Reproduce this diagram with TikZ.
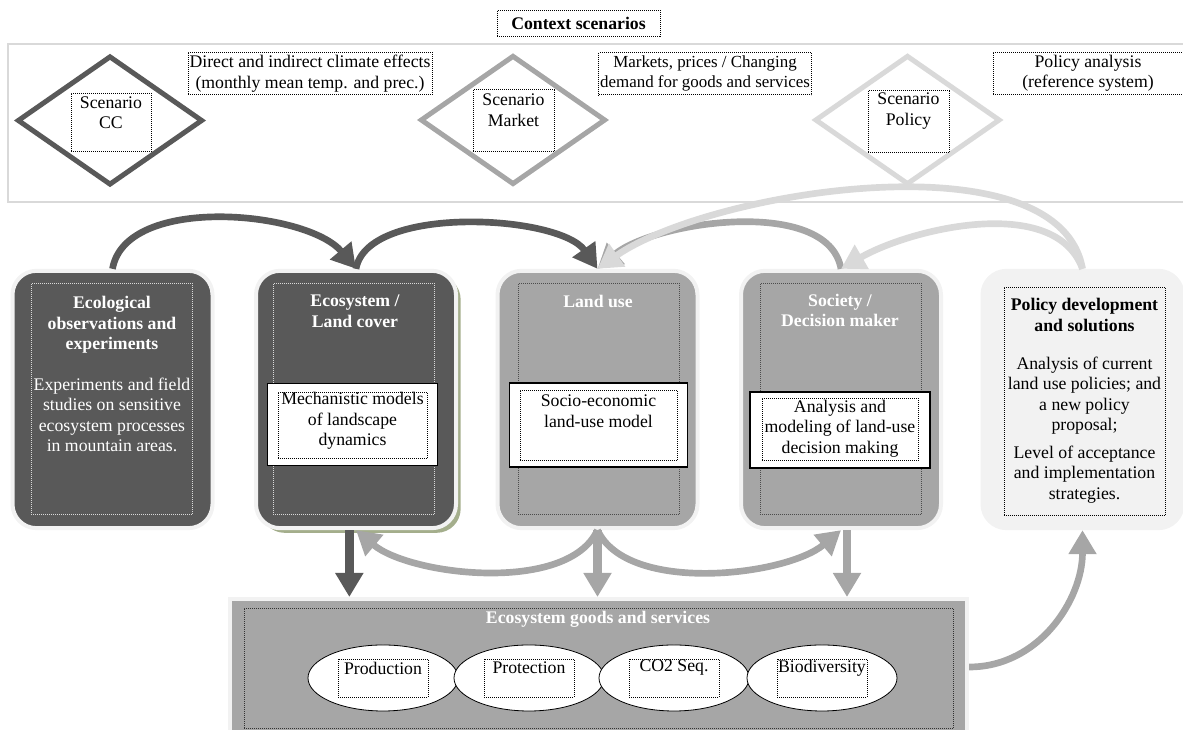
\documentclass[tikz,border=0pt]{standalone}
\usepackage{fontspec}
\setmainfont{Liberation Serif}
\usetikzlibrary{arrows.meta,positioning,shapes.geometric,shadows}
\definecolor{cdark}{HTML}{595959}
\definecolor{cmid}{HTML}{A6A6A6}
\definecolor{clight}{HTML}{D9D9D9}
\definecolor{cpale}{HTML}{F2F2F2}
\definecolor{cshade}{HTML}{A4AE8C}

\begin{document}
\begin{tikzpicture}[x=0.75pt,y=0.75pt,font=\fontsize{13.3}{15.4}\selectfont,
  dotbox/.style={draw,densely dotted,line width=0.5pt,inner sep=1pt},
  bigbox/.style={rectangle,rounded corners=18pt,draw=cpale,line width=3pt,minimum width=150pt,minimum height=193pt},
  inbox/.style={dotbox,minimum width=121pt,minimum height=173pt},
  modbox/.style={draw,fill=white,line width=0.8pt},
  scen/.style={diamond,line width=3.75pt,minimum width=139pt,minimum height=97pt},
  hd/.style={align=center,font=\fontsize{13.3}{15.4}\selectfont\bfseries},
  txt/.style={align=center,inner sep=0pt},
  goods/.style={ellipse,draw,fill=white,line width=0.6pt,minimum width=112.5pt,minimum height=49.5pt},
  arr/.style={line width=5pt,-{Triangle[width=20pt,length=18pt]}}]
\useasboundingbox (0,0) rectangle (1183,730);

% context scenarios
\node[dotbox,hd,minimum width=122pt,minimum height=19.5pt] (ctx) at (578.5,707) {Context scenarios};
\draw[clight,line width=1pt] (1183,686) -- (8,686) -- (8,528) -- (1183,528);
\node[scen,draw=cdark] (cc) at (110,609.5) {};
\node[scen,draw=cmid] (mkt) at (513,610) {};
\node[scen,draw=clight] (plc) at (907.5,610) {};
\node[dotbox,minimum width=60pt,minimum height=44pt] (ccin) at (111,607.5) {};
\node[dotbox,minimum width=61pt,minimum height=46pt] (mktin) at (513.5,609.5) {};
\node[dotbox,minimum width=61pt,minimum height=46pt] (plcin) at (908.5,608.5) {};
\node[txt] (cct) at (111,617.5) {Scenario\\CC};
\node[txt] (mktt) at (513.5,620) {Scenario\\Market};
\node[txt] (plct) at (908.5,619) {Scenario\\Policy};
\node[dotbox,align=center,minimum width=183pt,minimum height=32pt] (clim) at (310,656.5) {Direct and indirect climate effects\\(monthly mean temp. and prec.)};
\node[dotbox,align=center,minimum width=157.5pt,minimum height=32pt,font=\fontsize{12.7}{15.4}\selectfont] (price) at (705,656.5) {Markets, prices / Changing\\demand for goods and services};
\node[dotbox,align=center,minimum width=142.5pt,minimum height=32pt] (ref) at (1088,656.5) {Policy analysis\\(reference system)};

% model chain
\node[bigbox,fill=cdark] (obs) at (112.5,330.5) {};
\node[bigbox,fill=cdark,drop shadow={shadow xshift=3.5pt,shadow yshift=-3.5pt,fill=cshade,opacity=1}] (eco) at (356,330.5) {};
\node[bigbox,fill=cmid] (lu) at (597.5,330.5) {};
\node[bigbox,fill=cmid] (soc) at (841,330.5) {};
\node[bigbox,fill=cpale] (pol) at (1082.5,330.5) {};
\node[inbox,draw=clight] (obsin) at (112,331) {};
\node[inbox,draw=clight] (ecoin) at (354,331) {};
\node[inbox,draw=black!70] (luin) at (598.5,331) {};
\node[inbox,draw=black!70] (socin) at (840.5,331) {};
\node[inbox,draw=black,minimum height=171pt] (polin) at (1084.5,329) {};

\node[hd,white] (obsh) at (112,405) {Ecological\\observations and\\experiments};
\node[txt,white] (obst) at (112,315) {Experiments and field\\studies on sensitive\\ecosystem processes\\in mountain areas.};
\node[hd,white] (ecoh) at (355,419) {Ecosystem /\\Land cover};
\node[hd,white] (luh) at (598,429) {Land use};
\node[hd,white] (soch) at (840,419.5) {Society /\\Decision maker};
\node[hd] (polh) at (1084.5,415) {Policy development\\and solutions};
\node[txt] (polt) at (1084.5,300) {Analysis of current\\land use policies; and\\a new policy\\proposal;\\[5pt]Level of acceptance\\and implementation\\strategies.};

\node[modbox,minimum width=128pt,minimum height=61pt] (ecom) at (352.5,305.5) {};
\node[dotbox,minimum width=112pt,minimum height=49.5pt] (ecomin) at (352.5,305) {};
\node[txt] (ecomt) at (352.5,309) {Mechanistic models\\of landscape\\dynamics};
\node[modbox,minimum width=134pt,minimum height=63pt] (lum) at (598.5,305) {};
\node[dotbox,minimum width=118pt,minimum height=52.5pt] (lumin) at (598.5,305) {};
\node[txt] (lumt) at (598.5,319) {Socio-economic\\land-use model};
\node[modbox,minimum width=135pt,minimum height=57pt] (socm) at (840,300) {};
\node[dotbox,minimum width=117pt,minimum height=47pt] (socmin) at (840,300.5) {};
\node[txt] (socmt) at (840,301.5) {Analysis and\\modeling of land-use\\decision making};

% goods and services
\node[rectangle,fill=cmid,draw=cpale,line width=3pt,minimum width=553pt,minimum height=102pt] (egs) at (598.5,63) {};
\node[dotbox,draw=black!80,minimum width=532pt,minimum height=90pt] (egsin) at (598.5,62) {};
\node[hd,white] (egsh) at (598,111) {Ecosystem goods and services};
\foreach \x/\n/\t in {383/prod/Production,529/prot/Protection,674/co/CO2 Seq.,822/bio/Biodiversity}{
  \node[goods] (\n) at (\x,52) {};
  \node[dotbox,minimum width=67.5pt,minimum height=28.5pt] (\n in) at (\x,52) {};
  \node[txt] (\n t) at (\x,62) {\t};
}

% feedback arrows
\path[arr,cmid] (soc.north) edge[out=100,in=40,looseness=.78] (lu.north);
\path[arr,clight] (pol.north) edge[out=100,in=35,looseness=.72] (lu.north)
                  (pol.north) edge[out=110,in=30,looseness=.85] (soc.north);
\path[arr,cdark] (obs.north) edge[out=80,in=130,looseness=.8] (eco.north)
                 (eco.north) edge[out=80,in=125,looseness=.7] (lu.north);
\path[arr,cmid] (lu.south) edge[out=-115,in=-40,looseness=.75] (eco.south)
                (lu.south) edge[out=-65,in=-140,looseness=.75] (soc.south)
                (egs.east) edge[out=0,in=-90] (pol.south);
\path[arr,line width=6.5pt,cdark] ([xshift=-5pt]eco.south) edge ([xshift=-5pt]eco.south |- egs.north);
\path[arr,line width=6.5pt,cmid] (lu.south) edge (lu.south |- egs.north)
                ([xshift=4.5pt]soc.south) edge ([xshift=4.5pt]soc.south |- egs.north);
\end{tikzpicture}
\end{document}
